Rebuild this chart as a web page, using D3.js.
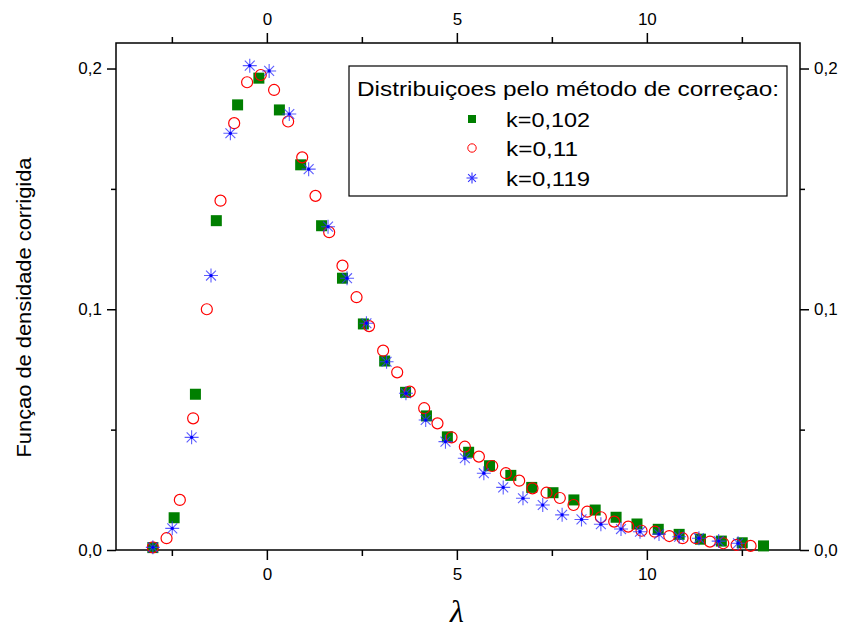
<html>
<head>
<meta charset="utf-8">
<script src="https://d3js.org/d3.v7.min.js"></script>
<style>
  body { margin: 0; background: white; }
  text { font-family: Arial, "Liberation Sans", sans-serif; }
</style>
</head>
<body>
<svg width=845 height=633></svg>
<script>
// k=0,102 (green squares)
var xGreen = [-3.0,-2.44,-1.88,-1.33,-0.77,-0.21,0.33,0.89,1.44,1.99,2.54,3.1,3.65,4.2,4.75,5.31,5.86,6.42,6.97,7.53,8.08,8.64,9.19,9.74,10.3,10.85,11.41,11.96,12.51,13.07];
var yGreen = [0.001,0.0134,0.0647,0.1368,0.1849,0.196,0.1828,0.16,0.1347,0.1129,0.0939,0.0785,0.0655,0.0557,0.047,0.0406,0.035,0.031,0.026,0.0238,0.0208,0.0166,0.0136,0.0108,0.0086,0.0065,0.0045,0.0037,0.003,0.0017];
// k=0,11 (red open circles)
var xRed = [-3.0,-2.64,-2.29,-1.94,-1.58,-1.22,-0.86,-0.52,-0.16,0.19,0.56,0.93,1.28,1.64,1.99,2.36,2.69,3.06,3.43,3.76,4.14,4.49,4.86,5.21,5.58,5.93,6.29,6.64,6.99,7.36,7.71,8.07,8.43,8.79,9.14,9.51,9.86,10.21,10.59,10.94,11.29,11.66,12.01,12.36,12.73];
var yRed = [0.0011,0.0049,0.0208,0.0547,0.1,0.1451,0.1773,0.1943,0.1973,0.1911,0.178,0.1631,0.1471,0.132,0.1181,0.105,0.093,0.0828,0.0738,0.0658,0.0589,0.0526,0.0468,0.0429,0.0388,0.0349,0.0319,0.0288,0.0256,0.0238,0.0216,0.0187,0.0159,0.0136,0.0118,0.0097,0.008,0.0076,0.0058,0.0049,0.0049,0.0035,0.0028,0.0021,0.0017];
// k=0,119 (blue asterisks)
var xBlue = [-3.0,-2.49,-1.98,-1.47,-0.96,-0.45,0.06,0.59,1.1,1.61,2.11,2.62,3.15,3.66,4.18,4.7,5.21,5.71,6.22,6.74,7.26,7.77,8.28,8.79,9.32,9.82,10.32,10.85,11.37,11.89,12.4];
var yBlue = [0.0011,0.009,0.0468,0.114,0.1731,0.2012,0.199,0.1811,0.1582,0.1343,0.1129,0.0942,0.0782,0.0651,0.054,0.045,0.0381,0.0319,0.026,0.0215,0.0187,0.0146,0.0127,0.0107,0.0087,0.0076,0.0066,0.0055,0.0049,0.0037,0.0028];

var seriesNames = ["k=0,102","k=0,11","k=0,119"];
var legendTitle = "Distribuiçoes pelo método de correçao:";
var xMajor = [0,5,10];
var xMinor = [-2.5,2.5,7.5,12.5];
var yMajor = [0,0.1,0.2];
var yMinor = [0.05,0.15];

var margin = {left:116, right:45, top:43, bottom:83};
var width = 845 - margin.left - margin.right;
var height = 633 - margin.top - margin.bottom;

var xs = d3.scaleLinear().domain([-3.97,14.03]).range([0,width]);
var ys = d3.scaleLinear().domain([0,0.2106]).range([height,0]);
var yfmt = function(d){ return d3.format(".1f")(d).replace(".",","); };

var svg = d3.select("svg");
var g = svg.append("g").attr("transform","translate("+margin.left+","+margin.top+")");

function axisStyle(sel) {
  sel.select(".domain").remove();
  sel.selectAll("line").attr("stroke","black").attr("stroke-width",1.5);
  sel.selectAll("text").attr("font-size","17px").attr("fill","black")
    .style("font-family","Arial, 'Liberation Sans', sans-serif");
}

// bottom
g.append("g").attr("transform","translate(0,"+height+")")
  .call(d3.axisBottom(xs).tickValues(xMajor).tickSize(10).tickPadding(8).tickFormat(d3.format("d")))
  .call(axisStyle);
g.append("g").attr("transform","translate(0,"+height+")")
  .call(d3.axisBottom(xs).tickValues(xMinor).tickSize(6).tickFormat(""))
  .call(axisStyle);
// top
g.append("g")
  .call(d3.axisTop(xs).tickValues(xMajor).tickSize(10).tickPadding(8).tickFormat(d3.format("d")))
  .call(axisStyle);
g.append("g")
  .call(d3.axisTop(xs).tickValues(xMinor).tickSize(6).tickFormat(""))
  .call(axisStyle);
// left
g.append("g")
  .call(d3.axisLeft(ys).tickValues(yMajor).tickSize(9).tickPadding(5).tickFormat(yfmt))
  .call(axisStyle);
g.append("g")
  .call(d3.axisLeft(ys).tickValues(yMinor).tickSize(5).tickFormat(""))
  .call(axisStyle);
// right
g.append("g").attr("transform","translate("+width+",0)")
  .call(d3.axisRight(ys).tickValues(yMajor).tickSize(9).tickPadding(5).tickFormat(yfmt))
  .call(axisStyle);
g.append("g").attr("transform","translate("+width+",0)")
  .call(d3.axisRight(ys).tickValues(yMinor).tickSize(5).tickFormat(""))
  .call(axisStyle);

// frame
g.append("rect")
  .attr("x",0).attr("y",0)
  .attr("width",width).attr("height",height)
  .attr("fill","none").attr("stroke","black").attr("stroke-width",1.5);

function asterisk(r) {
  var d = r*0.7071;
  return "M0,"+(-r)+"L0,"+r+"M"+(-r)+",0L"+r+",0"
    +"M"+(-d)+","+(-d)+"L"+d+","+d+"M"+(-d)+","+d+"L"+d+","+(-d);
}

// green squares
g.selectAll(".sq").data(xGreen).enter().append("rect")
  .attr("class","sq")
  .attr("x",function(d){ return xs(d)-5.5; })
  .attr("y",function(d,i){ return ys(yGreen[i])-5.5; })
  .attr("width",11).attr("height",11)
  .attr("fill","#007f00");

// red circles
g.selectAll(".ci").data(xRed).enter().append("circle")
  .attr("class","ci")
  .attr("cx",function(d){ return xs(d); })
  .attr("cy",function(d,i){ return ys(yRed[i]); })
  .attr("r",5.5)
  .attr("fill","none").attr("stroke","#ff0000").attr("stroke-width",1.2);

// blue asterisks
var ast = g.selectAll(".as").data(xBlue).enter().append("g")
  .attr("class","as")
  .attr("transform",function(d,i){ return "translate("+xs(d)+","+ys(yBlue[i])+")"; });
ast.append("path").attr("d",asterisk(7))
  .attr("stroke","#3333ff").attr("stroke-width",1.1).attr("fill","none").attr("opacity",0.8);
ast.append("circle").attr("r",1.6).attr("fill","#0000ff");

// legend
var lg = svg.append("g").attr("transform","translate(349,66)");
lg.append("rect").attr("width",438).attr("height",130)
  .attr("fill","white").attr("stroke","black").attr("stroke-width",1.2);
lg.append("text").attr("x",8).attr("y",30)
  .attr("font-size","21px")
  .attr("textLength",422).attr("lengthAdjust","spacingAndGlyphs")
  .text(legendTitle);
var rowY = [53,82,112];
var rowLen = [84,72,84];
lg.append("rect").attr("x",123-4).attr("y",rowY[0]-4).attr("width",8).attr("height",8).attr("fill","#007f00");
lg.append("circle").attr("cx",123).attr("cy",rowY[1]).attr("r",4.2)
  .attr("fill","none").attr("stroke","#ff0000").attr("stroke-width",1);
lg.append("path").attr("d",asterisk(5.5)).attr("transform","translate(123,"+rowY[2]+")")
  .attr("stroke","#3333ff").attr("stroke-width",1.1).attr("fill","none");
lg.selectAll(".lt").data(seriesNames).enter().append("text")
  .attr("class","lt")
  .attr("x",157)
  .attr("y",function(d,i){ return rowY[i]+8; })
  .attr("font-size","21px")
  .attr("textLength",function(d,i){ return rowLen[i]; })
  .attr("lengthAdjust","spacingAndGlyphs")
  .text(function(d){ return d; });

// axis titles
svg.append("text")
  .attr("x",margin.left+xs(5)).attr("y",622)
  .attr("text-anchor","middle")
  .style("font-family","'Liberation Serif', 'Times New Roman', serif")
  .style("font-style","italic")
  .attr("font-size","32px")
  .text("λ");

svg.append("text")
  .attr("transform","translate(31,"+(margin.top+height/2+11)+") rotate(-90)")
  .attr("text-anchor","middle")
  .attr("font-size","20px")
  .attr("textLength",300).attr("lengthAdjust","spacingAndGlyphs")
  .text("Funçao de densidade corrigida");
</script>
</body>
</html>
